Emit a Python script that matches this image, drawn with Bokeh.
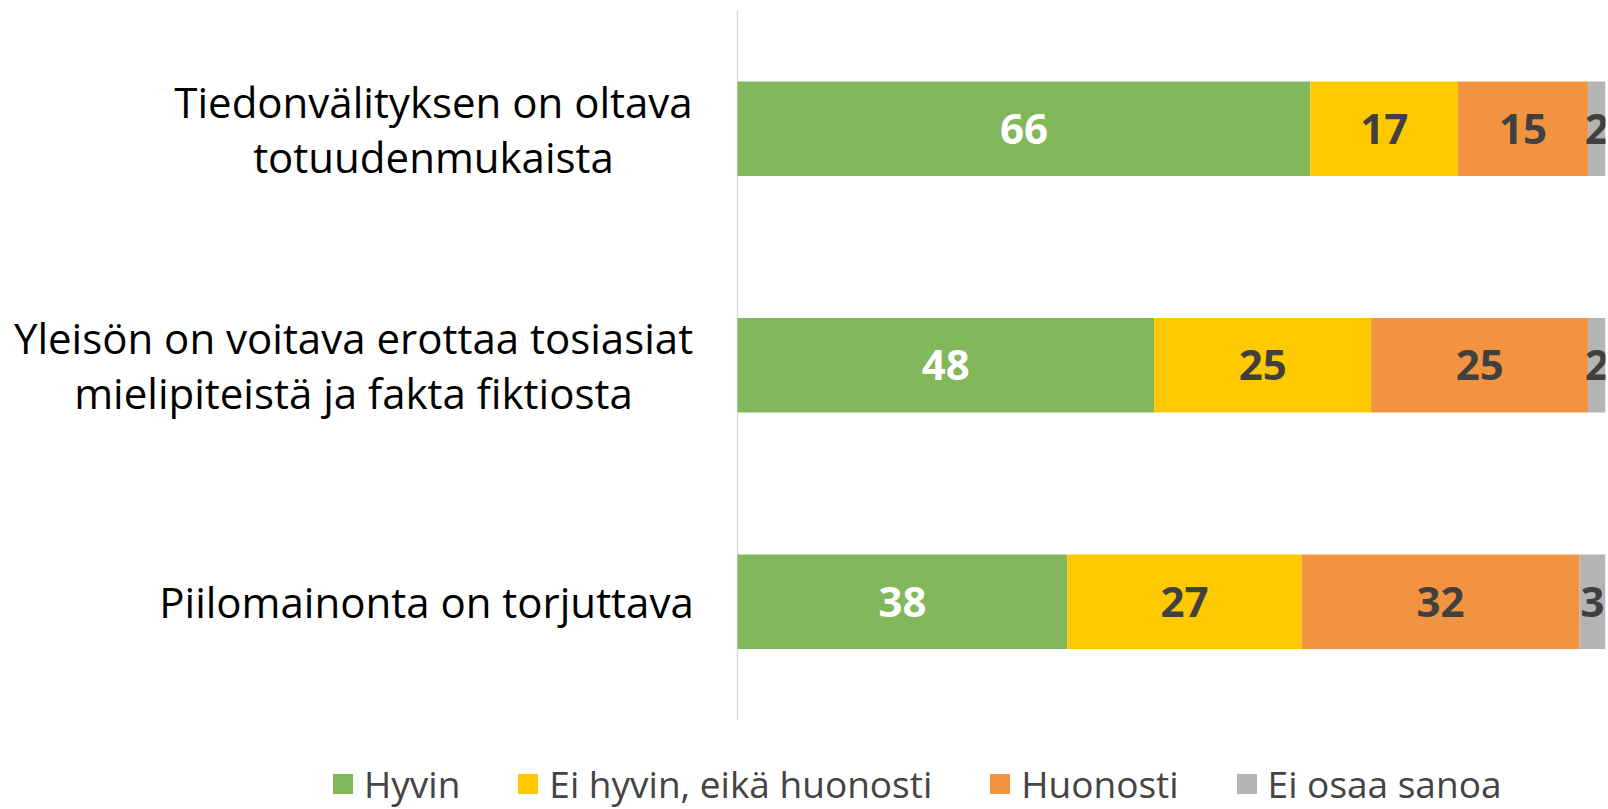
from bokeh.plotting import figure
from bokeh.models import Range1d, Legend, LegendItem, ColumnDataSource, LabelSet
from bokeh.embed import file_html
from bokeh.resources import INLINE
from bokeh.core.properties import value
import numpy as np

statements = [
    "Tiedonvälityksen on oltava\ntotuudenmukaista",
    "Yleisön on voitava erottaa tosiasiat\nmielipiteistä ja fakta fiktiosta",
    "Piilomainonta on torjuttava",
]
categories = ["Hyvin", "Ei hyvin, eikä huonosti", "Huonosti", "Ei osaa sanoa"]
hyvin = [66, 48, 38]
ei_hyvin = [17, 25, 27]
huonosti = [15, 25, 32]
ei_osaa = [2, 2, 3]
colors = ["#82b75c", "#ffc900", "#f19341", "#b4b4b4"]
label_colors = ["white", "#404040", "#404040", "#404040"]

# layout (pixels)
W, H = 1608, 809
axis_px = 737          # x pixel of the value axis (0 %)
right_px = 1605        # x pixel of 100 %
band_top_px = 10       # top of the category area
band_px = 236.5        # height of one category band
label_block_centres = [-304, -384, -311]   # px left of the axis
line_gap = 55

n = len(statements)
ypos = [n - 1 - i for i in range(n)]          # first statement at the top
px_per_unit = (right_px - axis_px) / 100.0
x_start = -axis_px / px_per_unit
y_end = (n - 0.5) + band_top_px / band_px
y_start = y_end - H / band_px

series = [hyvin, ei_hyvin, huonosti, ei_osaa]
keys = ["s0", "s1", "s2", "s3"]

data = {"y": ypos}
for k, s in zip(keys, series):
    data[k] = s
source = ColumnDataSource(data)

p = figure(width=W, height=H,
           y_range=Range1d(y_start, y_end),
           x_range=Range1d(x_start, 100),
           output_backend="svg", toolbar_location=None,
           min_border_left=0, min_border_right=W - right_px, min_border_top=0,
           min_border_bottom=0, outline_line_color=None)

# value axis line over the category area
p.segment(x0=[0], y0=[-0.5], x1=[0], y1=[n - 0.5], line_color="#d9d9d9", line_width=1.5)

renderers = p.hbar_stack(keys, y="y", height=0.4, color=colors, line_color=None, source=source)

cum = np.zeros(n)
for i, s in enumerate(series):
    arr = np.array(s, dtype=float)
    mid = cum + arr / 2
    cum = cum + arr
    ls = ColumnDataSource(dict(x=mid, y=ypos, t=[str(v) for v in s]))
    p.add_layout(LabelSet(x="x", y="y", text="t", source=ls, text_align="center",
                          text_baseline="middle", text_font=value("Open Sans"),
                          text_font_style="bold",
                          text_font_size="42px", text_color=label_colors[i]))

# category labels (centred lines, as in the original)
rows = dict(x=[], y=[], t=[], yo=[])
for s, yv, c in zip(statements, ypos, label_block_centres):
    lines = s.split("\n")
    m = len(lines)
    for j, line in enumerate(lines):
        rows["x"].append(c / px_per_unit)
        rows["y"].append(yv)
        rows["t"].append(line)
        rows["yo"].append(-((m - 1) / 2 - j) * line_gap)
p.text(x="x", y="y", text="t", y_offset="yo", source=ColumnDataSource(rows),
       text_align="center", text_baseline="middle", text_font=value("Open Sans"),
       text_font_size="42px", text_color="black")

p.xaxis.visible = False
p.yaxis.visible = False
p.xgrid.visible = False
p.ygrid.visible = False

legend = Legend(items=[LegendItem(label=c, renderers=[r]) for c, r in zip(categories, renderers)],
                orientation="horizontal", location=(330, 0),
                label_text_font="Open Sans", label_text_font_size="37px",
                glyph_width=25, glyph_height=25, spacing=55, label_standoff=9,
                border_line_color=None, background_fill_alpha=0, padding=0, margin=0)
p.add_layout(legend, "center")

open("out.html", "w").write(file_html(p, INLINE))
